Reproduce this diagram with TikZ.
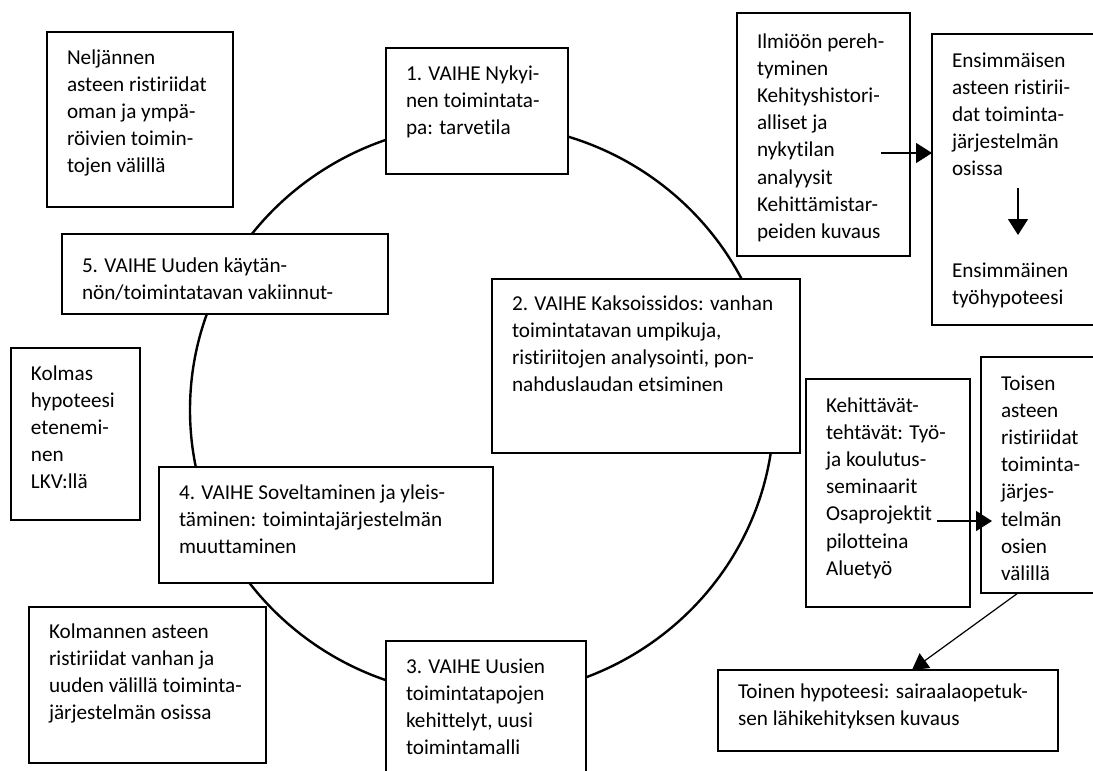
\documentclass[tikz,border=0pt]{standalone}
\usepackage{fontspec}
\setmainfont{Carlito}[Ligatures={NoCommon}]
\usetikzlibrary{arrows.meta}

% \tbox{name}{x1}{y1}{x2}{y2}{first baseline}{lines}
% draws a framed text box from (x1,y1) to (x2,y2), text set from the top
\newcommand\tbox[7]{%
  \pgfmathsetlengthmacro\tbwidth{(#4-#2)/2-20}%
  \pgfmathsetlengthmacro\tbheight{(#5-#3)/2}%
  \pgfmathsetlengthmacro\tbfirst{#6/2}%
  \node[box] (#1) at (#2,#3)
    {\parbox[t][\tbheight][t]{\tbwidth}{\rule{0pt}{\tbfirst}\begin{tabular}[t]{@{}l@{}}#7\end{tabular}}};%
}

\begin{document}
\begin{tikzpicture}[x=0.5pt,y=-0.5pt,
  box/.style={draw, line width=1.3pt, fill=white, inner xsep=10pt, inner ysep=0pt,
    outer sep=0pt, anchor=north west, font=\fontsize{10.6pt}{13.6pt}\selectfont},
  link/.style={line width=0.8pt, -{Triangle[length=8pt,width=10pt]}},
  thinlink/.style={line width=0.6pt, -{Triangle[length=8pt,width=9pt]}},
  ring/.style={line width=1.2pt}]
\useasboundingbox (0,0) rectangle (1093,771);
\clip (0,0) rectangle (1093,771);

% the cycle of phases
\draw[ring] (482,410) ellipse [x radius=292, y radius=286];

% phases on the cycle
\tbox{v1}{386}{48}{568}{174}{32}{1. VAIHE Nykyi-\\nen toimintata-\\pa: tarvetila}
\tbox{v2}{492}{279}{800}{453}{31}{2. VAIHE Kaksoissidos: vanhan\\toimintatavan umpikuja,\\ristiriitojen analysointi, pon-\\nahduslaudan etsiminen}
\tbox{v3}{386}{641}{586}{800}{32}{3. VAIHE Uusien\\toimintatapojen\\kehittelyt, uusi\\toimintamalli}
\tbox{v4}{159}{467}{493}{583}{32}{4. VAIHE Soveltaminen ja yleis-\\täminen: toimintajärjestelmän\\muuttaminen}
\tbox{v5}{62}{234}{388}{314}{38}{5. VAIHE Uuden käytän-\\nön/toimintatavan vakiinnut-}

% contradictions and hypotheses
\tbox{nelj}{47}{32}{233}{207}{32}{Neljännen\\asteen ristiriidat\\oman ja ympä-\\röivien toimin-\\tojen välillä}
\tbox{kolmas}{11}{348}{140}{520}{32}{Kolmas\\hypoteesi\\etenemi-\\nen\\LKV:llä}
\tbox{kolm}{29}{607}{266}{763}{31}{Kolmannen asteen\\ristiriidat vanhan ja\\uuden välillä toiminta-\\järjestelmän osissa}
\tbox{ilmio}{737}{13}{910}{256}{35}{Ilmiöön pereh-\\tyminen\\Kehityshistori-\\alliset ja\\nykytilan\\analyysit\\Kehittämistar-\\peiden kuvaus}
\tbox{ens}{932}{34}{1110}{325}{33}{Ensimmäisen\\asteen ristirii-\\dat toiminta-\\järjestelmän\\osissa\\[37.4pt]Ensimmäinen\\työhypoteesi}
\tbox{keh}{806}{379}{970}{607}{33}{Kehittävät-\\tehtävät: Työ-\\ja koulutus-\\seminaarit\\Osaprojektit\\pilotteina\\Aluetyö}
\tbox{toisen}{981}{357}{1110}{593}{33}{Toisen\\asteen\\ristiriidat\\toiminta-\\järjes-\\telmän\\osien\\välillä}
\tbox{toinenh}{718}{670}{1058}{751}{28}{Toinen hypoteesi: sairaalaopetuk-\\sen lähikehityksen kuvaus}

% connectors
\coordinate (a1s) at (881,153);
\draw[link] (a1s) -- (a1s -| ens.west);
\coordinate (a2s) at (1018,188);
\coordinate (a2e) at (1018,235);
\draw[link] (a2s) -- (a2e);
\coordinate (a3s) at (937,521);
\draw[link] (a3s) -- ([xshift=5.5pt]a3s -| toisen.west);
\coordinate (a4s) at (1018,593);
\coordinate (a4e) at (912,670);
\draw[thinlink] (a4s |- toisen.south) -- (a4e |- toinenh.north);
\end{tikzpicture}
\end{document}
